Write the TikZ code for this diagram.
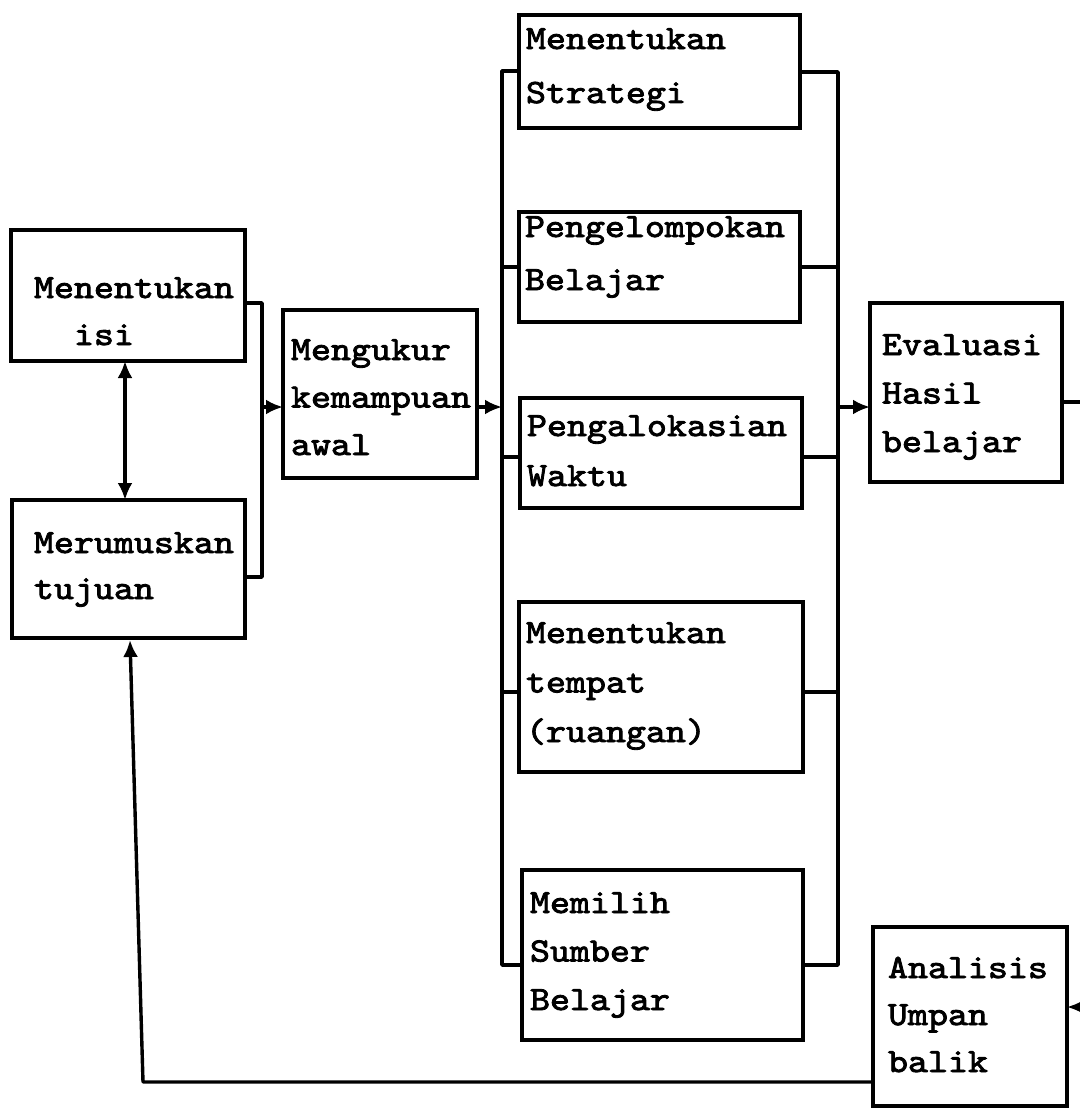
\documentclass[tikz,border=0pt]{standalone}
\usepackage{fontspec}
\newfontfamily\typewriter{lmmono10-regular.otf}[FakeStretch=1.12, FakeBold=2.5]
\usetikzlibrary{arrows.meta,calc}

% multi-line left-aligned text whose baseline is that of its first line
\newcommand\boxtext[2]{\vtop{\baselineskip=#1pt\lineskip=0pt\lineskiplimit=-100pt\halign{##\hfil\cr#2\crcr}}}

\tikzset{
  box/.style={draw, line width=3.4pt, inner sep=0pt, outer sep=0pt, anchor=north west},
  txt/.style={anchor=base west, inner sep=0pt, outer sep=0pt,
              font=\fontsize{34}{48}\selectfont\typewriter},
  wire/.style={line width=3.4pt, line join=round},
  tip/.tip={Latex[length=17pt,width=15pt]},
  arr/.style={wire, -tip},
  darr/.style={wire, tip-tip}
}

\begin{document}
\begin{tikzpicture}[x=1pt, y=-1pt]
\useasboundingbox (0,0) rectangle (1079,1108);

% boxes
\node[box, minimum width=234, minimum height=131] (isi)   at (11,230)  {};
\node[box, minimum width=233, minimum height=138] (tuj)   at (12,500)  {};
\node[box, minimum width=194, minimum height=168] (ukur)  at (283,310) {};
\node[box, minimum width=281, minimum height=113] (strat) at (519,15)  {};
\node[box, minimum width=281, minimum height=110] (kel)   at (519,212) {};
\node[box, minimum width=282, minimum height=110] (wkt)   at (520,398) {};
\node[box, minimum width=284, minimum height=170] (tmp)   at (519,602) {};
\node[box, minimum width=281, minimum height=170] (sbr)   at (522,870) {};
\node[box, minimum width=192, minimum height=179] (eval)  at (870,303) {};
\node[box, minimum width=194, minimum height=179] (ana)   at (873,927) {};

% labels
\node[txt] (tisi)   at (34,298)  {\boxtext{47}{Menentukan\cr\phantom{Me}isi}};
\node[txt] (ttuj)   at (34,553)  {\boxtext{46}{Merumuskan\cr tujuan}};
\node[txt] (tukur)  at (291,360) {\boxtext{47.5}{Mengukur\cr kemampuan\cr awal}};
\node[txt] (tstrat) at (526,49)  {\boxtext{54}{Menentukan\cr Strategi}};
\node[txt] (tkel)   at (525,237) {\boxtext{53}{Pengelompokan\cr Belajar}};
\node[txt] (twkt)   at (527,436) {\boxtext{50}{Pengalokasian\cr Waktu}};
\node[txt] (ttmp)   at (526,643) {\boxtext{49.5}{Menentukan\cr tempat\cr (ruangan)}};
\node[txt] (tsbr)   at (530,913) {\boxtext{48.5}{Memilih\cr Sumber\cr Belajar}};
\node[txt] (teval)  at (882,355) {\boxtext{48.5}{Evaluasi\cr Hasil\cr belajar}};
\node[txt] (tana)   at (888,978) {\boxtext{47}{Analisis\cr Umpan\cr balik}};

% join of the two starting boxes
\coordinate (ja) at (262,303);
\coordinate (jb) at (262,577);
\coordinate (jm) at (262,407);
\draw[wire] (isi.east |- ja) -- (ja) -- (jb) -- (tuj.east |- jb);
\draw[arr] (jm) -- (ukur.west |- jm);
\draw[darr] ($(isi.south west)+(114,0)$) -- ($(tuj.north west)+(113,0)$);

% left bus
\coordinate (lt) at (502,71);
\coordinate (lb) at (502,965);
\coordinate (lm) at (502,407);
\draw[arr] (ukur.east |- lm) -- (lm);
\draw[wire] (strat.west |- lt) -- (lt) -- (lb) -- (sbr.west |- lb);
\draw[wire] (lt |- kel.west) -- (kel.west);
\draw[wire] (lt |- 0,457) -- (wkt.west |- 0,457);
\draw[wire] (lt |- 0,692) -- (tmp.west |- 0,692);

% right bus
\coordinate (rt) at (838,72);
\coordinate (rb) at (838,965);
\coordinate (rm) at (838,407);
\draw[wire] (strat.east |- rt) -- (rt) -- (rb) -- (sbr.east |- rb);
\draw[wire] (kel.east |- 0,267) -- (rt |- 0,267);
\draw[wire] (wkt.east |- 0,457) -- (rt |- 0,457);
\draw[wire] (tmp.east |- 0,692) -- (rt |- 0,692);
\draw[arr] (rm) -- (eval.west |- rm);

% outgoing and returning lines at the right edge
\coordinate (eo) at (1082,402);
\draw[wire] (eval.east |- eo) -- (eo);
\coordinate (ai) at (1090,1007);
\draw[arr] (ai) -- (ana.east |- ai);

% feedback loop
\coordinate (f1) at (143,1082);
\coordinate (f2) at (130,640);
\draw[arr] (ana.west |- f1) -- (f1) -- (f2);
\end{tikzpicture}
\end{document}
